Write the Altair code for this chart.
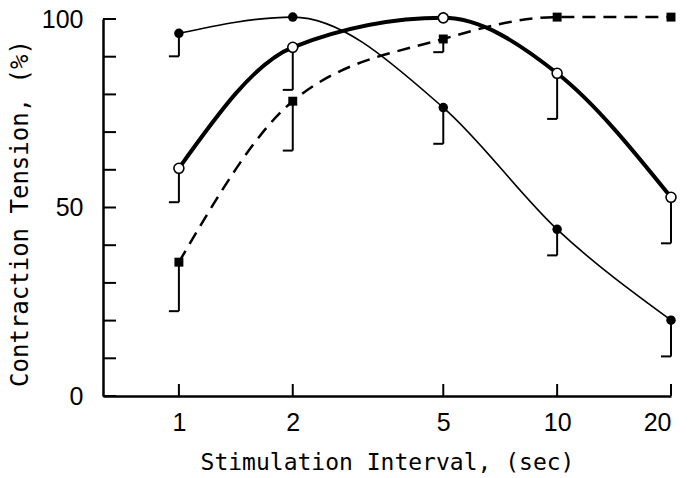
import altair as alt
import pandas as pd

# ---- data ----
intervals = [1, 2, 5, 10, 20]

thin_vals = [96.2, 100.5, 76.5, 44.2, 20.1]      # filled circles, thin line
thin_low = [90.1, None, 66.9, 37.3, 10.5]

thick_vals = [60.4, 92.5, 100.3, 85.6, 52.7]     # open circles, thick line
thick_low = [51.4, 81.2, None, 73.5, 40.5]

dash_vals = [35.5, 78.2, 94.7, 100.5, 100.5]     # filled squares, dashed line
dash_low = [22.5, 65.1, 91.2, None, None]

x_ticks = [1, 2, 5, 10, 20]
y_ticks = [0, 10, 20, 30, 40, 50, 60, 70, 80, 90, 100]
y_labels = [0, 50, 100]

W, H = 568, 377

def frame(vals, low):
    return pd.DataFrame({"x": intervals, "y": vals, "low": low})

thin = frame(thin_vals, thin_low)
thick = frame(thick_vals, thick_low)
dash = frame(dash_vals, dash_low)

xscale = alt.Scale(type="log", domain=[0.63, 20], nice=False)
yscale = alt.Scale(domain=[0, 100], nice=False, zero=False)

x_axis = alt.Axis(values=x_ticks, format="~g", ticks=False, grid=False,
                  domainColor="black", domainWidth=2.5, labelColor="black",
                  labelFont="Liberation Sans", labelFontSize=25, labelPadding=14,
                  title="Stimulation Interval, (sec)", titleFont="DejaVu Sans Mono",
                  titleFontSize=23, titleFontWeight="normal", titleColor="black",
                  titleBaseline="middle", titleY=66)
y_axis = alt.Axis(values=y_labels, ticks=False, grid=False,
                  domainColor="black", domainWidth=2.5, labelColor="black",
                  labelFont="Liberation Sans", labelFontSize=25, labelPadding=20,
                  title="Contraction Tension,  (%)", titleFont="DejaVu Sans Mono",
                  titleFontSize=24, titleFontWeight="normal", titleColor="black",
                  titleBaseline="middle", titleX=-83, titleY=194)

X = alt.X("x:Q", scale=xscale, axis=x_axis)
Y = alt.Y("y:Q", scale=yscale, axis=y_axis)

ytick_df = pd.DataFrame({"y": y_ticks})
xtick_df = pd.DataFrame({"x": x_ticks})

ytick_layer = alt.Chart(ytick_df).mark_rule(color="black", strokeWidth=2).encode(
    y=Y, x=alt.value(0), x2=alt.value(13))
xtick_layer = alt.Chart(xtick_df).mark_rule(color="black", strokeWidth=2).encode(
    x=X, y=alt.value(H), y2=alt.value(H - 12))

def err_layers(df):
    d = df.dropna()
    v = alt.Chart(d).mark_rule(color="black", strokeWidth=2).encode(
        x=X, y=Y, y2="low:Q")
    foot = alt.Chart(d).mark_rule(color="black", strokeWidth=2, xOffset=-10).encode(
        x=X, x2="x:Q", y=alt.Y("low:Q", scale=yscale, axis=y_axis))
    return [v, foot]

thin_line = alt.Chart(thin).mark_line(color="black", strokeWidth=1.6,
                                      interpolate="monotone").encode(x=X, y=Y)
thick_line = alt.Chart(thick).mark_line(color="black", strokeWidth=4,
                                        interpolate="monotone").encode(x=X, y=Y)
dash_line = alt.Chart(dash).mark_line(color="black", strokeWidth=2.5, strokeDash=[13, 8],
                                      interpolate="monotone").encode(x=X, y=Y)

thin_pts = alt.Chart(thin).mark_point(shape="circle", filled=True, color="black",
                                      size=90, opacity=1).encode(x=X, y=Y)
thick_pts = alt.Chart(thick).mark_point(shape="circle", filled=True, fill="white",
                                        stroke="black", strokeWidth=1.6, size=100,
                                        opacity=1).encode(x=X, y=Y)
dash_pts = alt.Chart(dash).mark_point(shape="square", filled=True, color="black",
                                      size=80, opacity=1).encode(x=X, y=Y)

layers = ([ytick_layer, xtick_layer] + err_layers(thin) + err_layers(thick)
          + err_layers(dash) + [thin_line, thick_line, dash_line,
                                thin_pts, dash_pts, thick_pts])

chart = alt.layer(*layers).properties(
    width=W, height=H,
    autosize=alt.AutoSizeParams(type="none"),
    padding={"left": 103, "top": 19, "right": 21, "bottom": 82},
    background="white",
).configure_view(stroke=None)

chart.save("out.html", embed_options={"renderer": "svg", "actions": False})
